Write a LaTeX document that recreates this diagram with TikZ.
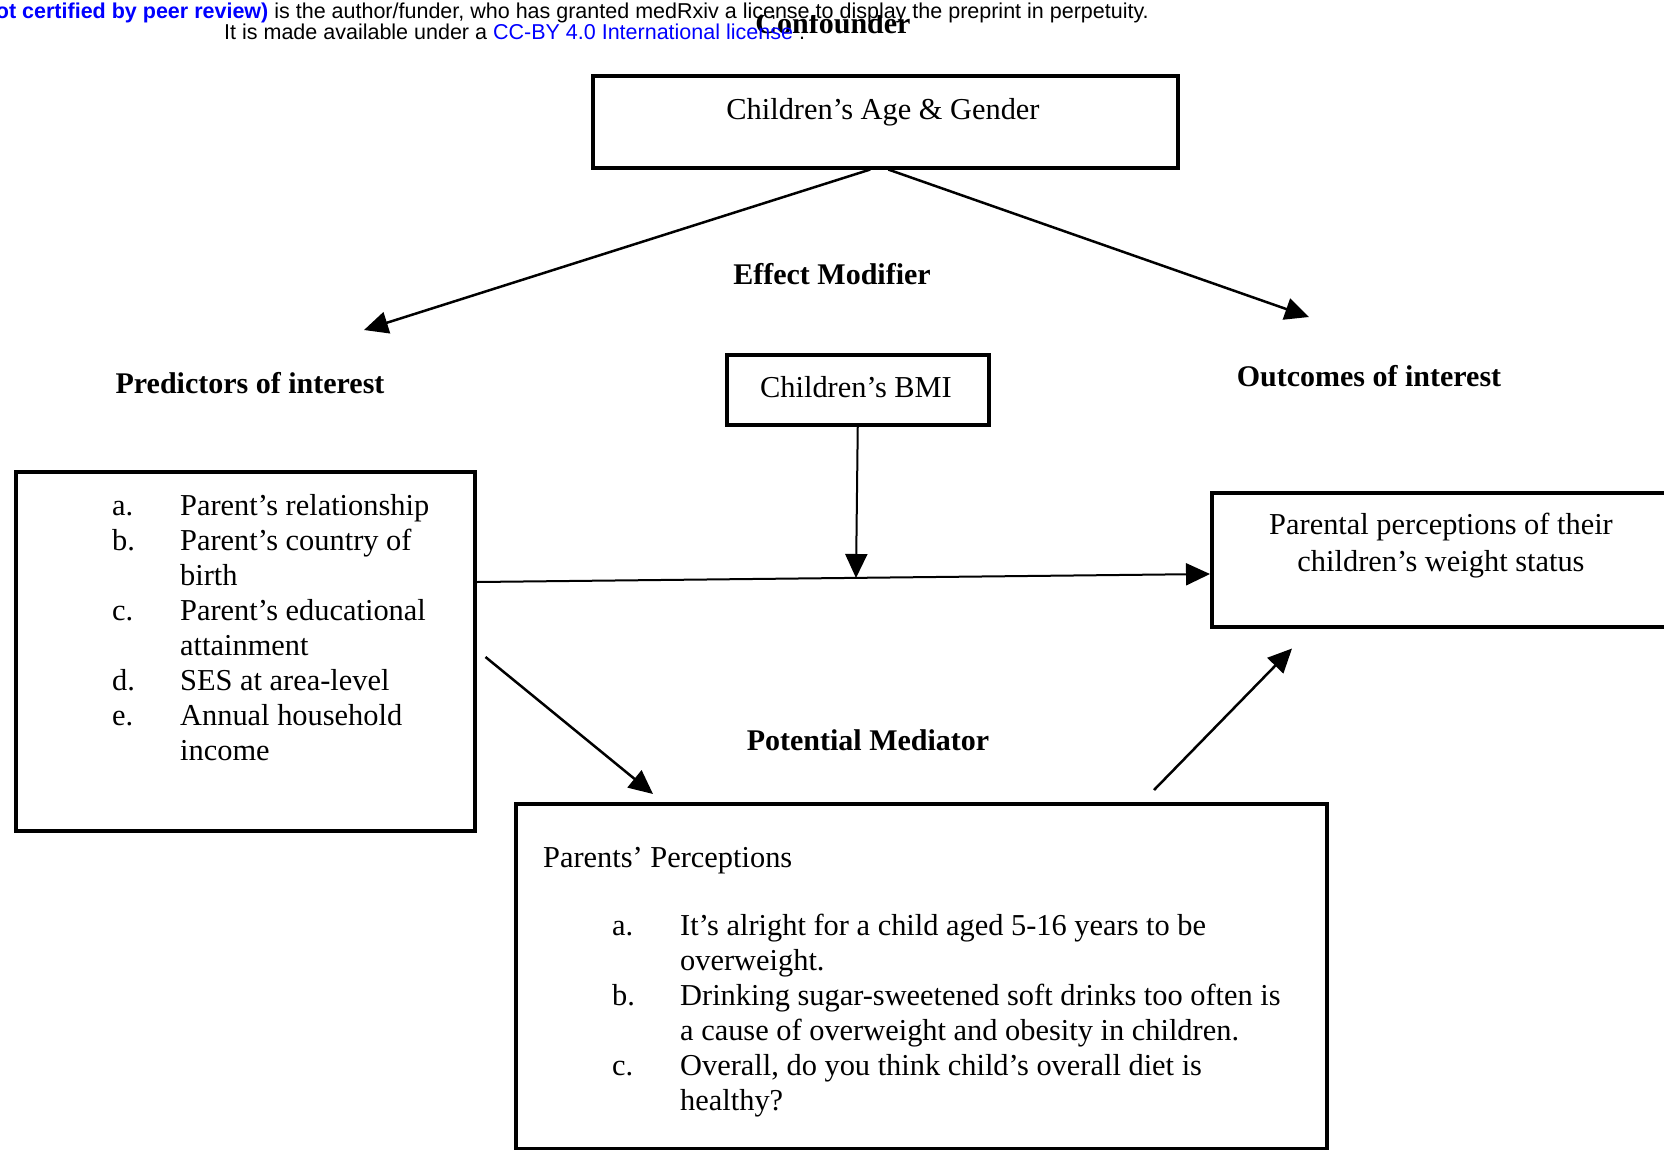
\documentclass[tikz,border=0pt]{standalone}
\usepackage{fontspec}
\setmainfont{Liberation Serif}
\newfontfamily\hdrfont{Liberation Sans}
\usetikzlibrary{arrows.meta,calc}
\begin{document}
\begin{tikzpicture}[x=1pt,y=-1pt,
  box/.style={draw, line width=3.5pt, inner sep=0pt, anchor=north west},
  lbl/.style={font=\fontsize{30.4}{35}\selectfont, inner sep=0pt},
  blbl/.style={font=\fontsize{30}{35}\selectfont\bfseries, inner sep=0pt},
  arr/.style={line width=2.5pt, -{Triangle[length=24pt,width=22pt]}},
  thinarr/.style={line width=2pt, -{Triangle[length=24pt,width=22pt]}},
  hdr/.style={font=\fontsize{21.5}{23}\selectfont\hdrfont, inner sep=0pt}
]
\useasboundingbox[fill=white] (0,0) rectangle (1664,1149);

% boxes
\node[box, minimum width=585pt, minimum height=92pt] (agebox) at (591,74) {};
\node[box, minimum width=262pt, minimum height=70pt] (bmibox) at (725,353) {};
\node[box, minimum width=459pt, minimum height=359pt] (predbox) at (14,470) {};
\node[box, minimum width=500pt, minimum height=134pt] (outbox) at (1210,491) {};
\node[box, minimum width=811pt, minimum height=345pt] (medbox) at (514,802) {};

% box texts
\node[lbl, anchor=base] (agetxt) at (883,119) {Children's Age \& Gender};
\node[lbl] (bmitxt) at (856,387) {Children's BMI};
\node[lbl, align=center, font=\fontsize{30.4}{37}\selectfont] (outtxt) at (1441,546)
  {Parental perceptions of their\\children's weight status};
\node[lbl, anchor=base west] (predlist) at (112,515)
  {\begin{tabular}[t]{@{}p{68pt}@{}l@{}}
   a. & Parent's relationship\\
   b. & Parent's country of\\
      & birth\\
   c. & Parent's educational\\
      & attainment\\
   d. & SES at area-level\\
   e. & Annual household\\
      & income
   \end{tabular}};
\node[lbl, anchor=base west] (medhead) at (543,867) {Parents' Perceptions};
\node[lbl, anchor=base west] (medlist) at (612,935)
  {\begin{tabular}[t]{@{}p{68pt}@{}l@{}}
   a. & It's alright for a child aged 5-16 years to be\\
      & overweight.\\
   b. & Drinking sugar-sweetened soft drinks too often is\\
      & a cause of overweight and obesity in children.\\
   c. & Overall, do you think child's overall diet is\\
      & healthy?
   \end{tabular}};

% bold labels
\begin{scope}
  \clip (0,15) rectangle (1664,1149);
  \node[blbl, anchor=base] (conflbl) at (833,33) {Confounder};
\end{scope}
\node[blbl] (efflbl) at (832,274) {Effect Modifier};
\node[blbl] (predlbl) at (250,383) {Predictors of interest};
\node[blbl] (outlbl) at (1369,376) {Outcomes of interest};
\node[blbl] (medlbl) at (868,740) {Potential Mediator};

% header overlay
\node[hdr, anchor=base east] (hdr1) at (1149,18)
  {\textcolor{blue}{\bfseries not certified by peer review)} is the author/funder, who has granted medRxiv a license to display the preprint in perpetuity.};
\node[hdr, anchor=base west] (hdr2) at (224,39)
  {It is made available under a \textcolor{blue}{CC-BY 4.0 International license} .};

% connectors
\coordinate (predtip) at (364,330);
\coordinate (outtip) at (1309,317);
\draw[arr] ($(agebox.south)+(-15,0)$) -- (predtip);
\draw[arr] ($(agebox.south)+(3,0)$) -- (outtip);
\draw[thinarr] ($(predbox.north east)+(0,112)$) -- ($(outbox.north west)+(0,83)$);
\draw[thinarr] (bmibox.south) -- (856,578);
\draw[arr] ($(predbox.north east)+(9,187)$) -- ($(medbox.north west)+(139,-8)$);
\draw[arr] ($(medbox.north west)+(640,-12)$) -- ($(outbox.south west)+(82,20)$);
\end{tikzpicture}
\end{document}
